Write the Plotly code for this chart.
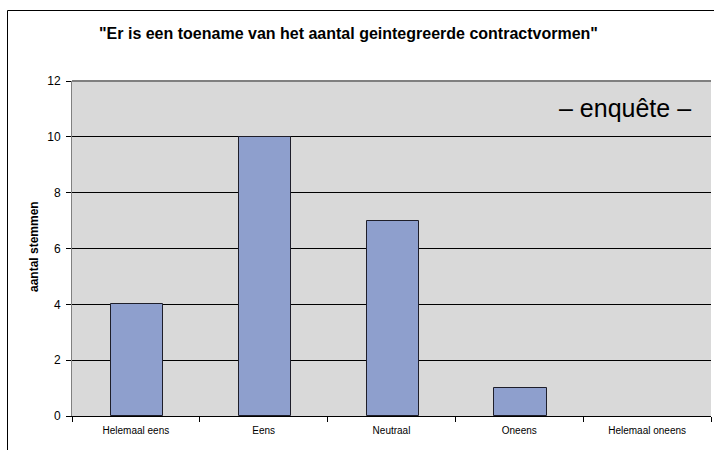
import plotly.graph_objects as go

# Survey answers and vote counts
categories = ["Helemaal eens", "Eens", "Neutraal", "Oneens", "Helemaal oneens"]
votes = [4, 10, 7, 1, 0]
y_ticks = [0, 2, 4, 6, 8, 10, 12]

title_text = '"Er is een toename van het aantal geintegreerde contractvormen"'
y_title = "aantal stemmen"
tag_text = "– enquête –"

FONT = "Liberation Sans, Arial, Helvetica, sans-serif"

W, H = 714, 450
L, R, T, B = 72, 3, 81, 34
pw, ph = W - L - R, H - T - B


def px_x(x):
    return (x - L) / pw


def px_y(y):
    return (H - B - y) / ph


fig = go.Figure()
fig.add_trace(go.Bar(
    x=categories,
    y=votes,
    width=0.41,
    offset=-0.195,
    marker=dict(
        color="#8E9FCD",
        line=dict(color="#1E1E2A", width=[1 if v > 0 else 0 for v in votes]),
    ),
    hoverinfo="x+y",
))

fig.update_layout(
    width=W,
    height=H,
    margin=dict(l=L, r=R, t=T, b=B),
    paper_bgcolor="white",
    plot_bgcolor="#D9D9D9",
    showlegend=False,
    font=dict(family=FONT, size=11, color="black"),
    bargap=0,
)

fig.update_xaxes(
    type="category",
    tickson="boundaries",
    ticks="outside",
    ticklen=5,
    tickcolor="black",
    showline=True,
    linecolor="black",
    linewidth=1,
    showgrid=False,
    tickfont=dict(size=10, family=FONT),
    ticklabelstandoff=5,
    fixedrange=True,
)

fig.update_yaxes(
    range=[0, 12],
    tickvals=y_ticks,
    ticks="outside",
    ticklen=5,
    tickcolor="black",
    showline=True,
    linecolor="#808080",
    linewidth=1,
    showgrid=True,
    gridcolor="black",
    gridwidth=1,
    zeroline=False,
    tickfont=dict(size=12, family=FONT),
    ticklabelstandoff=3,
    fixedrange=True,
)

# grey top edge of the plot area
fig.add_shape(type="line", xref="paper", yref="paper", x0=0, x1=1, y0=1, y1=1,
              line=dict(color="#808080", width=2))

# outer chart frame (left and top)
fx = px_x(7.5)
fy = px_y(10.5)
fig.add_shape(type="line", xref="paper", yref="paper", x0=fx, x1=fx, y0=px_y(455), y1=fy,
              line=dict(color="black", width=1))
fig.add_shape(type="line", xref="paper", yref="paper", x0=fx, x1=px_x(720), y0=fy, y1=fy,
              line=dict(color="black", width=1))

annotations = [
    dict(text=title_text, xref="paper", yref="paper", x=px_x(348), y=px_y(33),
         showarrow=False, xanchor="center", yanchor="middle",
         font=dict(size=16, family=FONT, color="black", weight="bold")),
    dict(text=y_title, xref="paper", yref="paper", x=px_x(34), y=px_y(247),
         showarrow=False, textangle=-90, xanchor="center", yanchor="middle",
         font=dict(size=12, family=FONT, color="black", weight="bold")),
    dict(text=tag_text, xref="paper", yref="paper", x=px_x(625), y=px_y(108),
         showarrow=False, xanchor="center", yanchor="middle",
         font=dict(size=25, family=FONT, color="black")),
]
fig.update_layout(annotations=annotations)

fig.write_html("out.html")
